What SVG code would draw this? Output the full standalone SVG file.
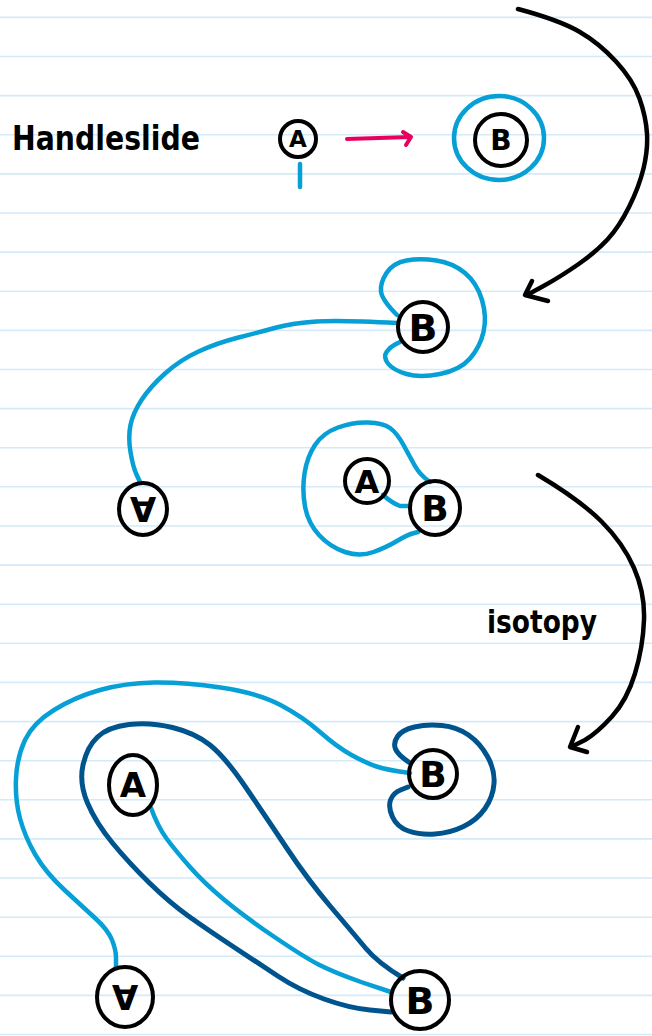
<svg xmlns="http://www.w3.org/2000/svg" width="652" height="1036" viewBox="0 0 652 1036">
<style>
.rule{stroke:#d3eaf8;stroke-width:1.6}
.node{fill:none;stroke:#000;stroke-width:4}
.lbl{font-family:"DejaVu Sans",sans-serif;font-weight:bold;fill:#000;text-anchor:middle}
.lb{fill:none;stroke:#069fd6;stroke-width:4.5;stroke-linecap:round;stroke-linejoin:round}
.db{fill:none;stroke:#00548e;stroke-width:5;stroke-linecap:round;stroke-linejoin:round}
.blk{fill:none;stroke:#000;stroke-width:4.5;stroke-linecap:round;stroke-linejoin:round}
.pink{fill:none;stroke:#e8005c;stroke-width:4;stroke-linecap:round;stroke-linejoin:round}
.hand{font-family:"DejaVu Sans",sans-serif;font-weight:bold;fill:#000}
</style>
<rect width="652" height="1036" fill="#fff"/>
<g id="paper">
<line class="rule" x1="0" x2="652" y1="17.4" y2="17.4"/>
<line class="rule" x1="0" x2="652" y1="56.5" y2="56.5"/>
<line class="rule" x1="0" x2="652" y1="95.6" y2="95.6"/>
<line class="rule" x1="0" x2="652" y1="134.8" y2="134.8"/>
<line class="rule" x1="0" x2="652" y1="173.9" y2="173.9"/>
<line class="rule" x1="0" x2="652" y1="213" y2="213"/>
<line class="rule" x1="0" x2="652" y1="252.1" y2="252.1"/>
<line class="rule" x1="0" x2="652" y1="291.2" y2="291.2"/>
<line class="rule" x1="0" x2="652" y1="330.4" y2="330.4"/>
<line class="rule" x1="0" x2="652" y1="369.5" y2="369.5"/>
<line class="rule" x1="0" x2="652" y1="408.6" y2="408.6"/>
<line class="rule" x1="0" x2="652" y1="447.7" y2="447.7"/>
<line class="rule" x1="0" x2="652" y1="486.8" y2="486.8"/>
<line class="rule" x1="0" x2="652" y1="526" y2="526"/>
<line class="rule" x1="0" x2="652" y1="565.1" y2="565.1"/>
<line class="rule" x1="0" x2="652" y1="604.2" y2="604.2"/>
<line class="rule" x1="0" x2="652" y1="643.3" y2="643.3"/>
<line class="rule" x1="0" x2="652" y1="682.4" y2="682.4"/>
<line class="rule" x1="0" x2="652" y1="721.6" y2="721.6"/>
<line class="rule" x1="0" x2="652" y1="760.7" y2="760.7"/>
<line class="rule" x1="0" x2="652" y1="799.8" y2="799.8"/>
<line class="rule" x1="0" x2="652" y1="838.9" y2="838.9"/>
<line class="rule" x1="0" x2="652" y1="878" y2="878"/>
<line class="rule" x1="0" x2="652" y1="917.2" y2="917.2"/>
<line class="rule" x1="0" x2="652" y1="956.3" y2="956.3"/>
<line class="rule" x1="0" x2="652" y1="995.4" y2="995.4"/>
<line class="rule" x1="0" x2="652" y1="1034.5" y2="1034.5"/>
</g>
<text class="hand" x="12" y="150" font-size="34" textLength="188" lengthAdjust="spacingAndGlyphs">Handleslide</text>
<text class="hand" x="487" y="633" font-size="32" textLength="110" lengthAdjust="spacingAndGlyphs">isotopy</text>
<g id="connectors">
<path class="lb" d="M300,164 L300,187"/>
<path class="pink" d="M347,139 L410,137 M403,132 L411,137 L406,145"/>
<ellipse class="lb" cx="499" cy="138" rx="45" ry="42"/>
<path class="blk" d="M518,9 Q559,20 579,31.5 Q599,43 616,61.5 Q633,80 639.5,98.5 Q646,117 647,133.5 Q648,150 643.5,168.5 Q639,187 629,207 Q619,227 607.5,239.5 Q596,252 578,264.5 Q560,277 543.5,286 L527,295"/>
<path class="blk" d="M532,281 L525,295 L548,301"/>
<path class="lb" d="M397,315 Q382,300 381,291.5 Q380,283 386.5,273 Q393,263 406.5,260.5 Q420,258 436.5,260.5 Q453,263 465,273 Q477,283 482,300 Q487,317 483.5,332 Q480,347 470,358.5 Q460,370 440,374 Q420,378 406.5,374 Q393,370 388,363.5 Q383,357 386.5,352 Q390,347 395,344.5 L400,342"/>
<path class="lb" d="M397,323 Q340,320 316.5,321.5 Q293,323 276.5,327.5 Q260,332 238.5,337.5 Q217,343 198.5,351.5 Q180,360 165,373.5 Q150,387 141.5,400 Q133,413 130.5,425 Q128,437 130.5,452 Q133,467 136.5,474.5 L140,482"/>
<path class="lb" d="M430,482 Q420,475 415,466 Q410,457 403.5,445 Q397,433 390,428 Q383,423 368,422.5 Q353,422 338,427.5 Q323,433 315,445 Q307,457 304.5,473.5 Q302,490 305,506.5 Q308,523 319,535 Q330,547 345,552 Q360,557 373.5,552 Q387,547 397,541 Q407,535 412.5,533.5 L418,532"/>
<path class="lb" d="M383,495 Q392,503 400,506 L409,506"/>
<path class="blk" d="M538,475 Q580,500 601.5,521.5 Q623,543 634,568 Q645,593 644,620 Q643,647 635,673.5 Q627,700 612,716.5 Q597,733 585,740 L571,747"/>
<path class="blk" d="M578,727 L570,747 L587,752"/>
<path class="db" d="M410,763 Q398,755 395.5,749 Q393,743 397.5,736.5 Q402,730 414.5,727 Q427,724 442,725.5 Q457,727 468.5,735 Q480,743 487.5,756.5 Q495,770 494,783.5 Q493,797 485,808.5 Q477,820 463.5,826.5 Q450,833 435,834 Q420,835 408.5,831 Q397,827 392.5,817 Q388,807 390.5,800 Q393,793 400.5,790 L408,787"/>
<path class="lb" d="M410,773 Q387,770 376.5,766.5 Q366,763 351.5,755 Q337,747 320,732 Q303,717 280.5,705 Q258,693 220.5,687.5 Q183,682 154,682.5 Q125,683 100,690 Q75,697 54,710 Q33,723 25,740 Q17,757 16,778.5 Q15,800 20,818.5 Q25,837 35.5,855 Q46,873 64.5,890 Q83,907 95.5,918.5 Q108,930 112,940 Q116,950 116,957.5 L116,968"/>
<path class="db" d="M403,978 Q378,963 365.5,948 Q353,933 330.5,906.5 Q308,880 287,848.5 Q266,817 245.5,787 Q225,757 210,745 Q195,733 172.5,727.5 Q150,722 129,724.5 Q108,727 97.5,737 Q87,747 83,765 Q79,783 87.5,803 Q96,823 112.5,843 Q129,863 149.5,883 Q170,903 189,916.5 Q208,930 233,946.5 Q258,963 278.5,976.5 Q299,990 324,999 Q349,1008 370,1010 L391,1012"/>
<path class="lb" d="M151,808 Q158,827 166.5,838.5 Q175,850 189.5,866.5 Q204,883 224.5,900 Q245,917 274.5,937 Q304,957 318.5,964.5 Q333,972 361,982 L391,992"/>
</g>
<g id="nodeA1"><circle class="node" cx="298" cy="139" r="18"/><text class="lbl" x="298" y="147" font-size="23">A</text></g>
<g id="nodeB1"><circle class="node" cx="501" cy="140" r="26"/><text class="lbl" x="501" y="150" font-size="28">B</text></g>
<g id="nodeB2"><circle class="node" cx="423" cy="327" r="25"/><text class="lbl" x="423" y="341" font-size="38">B</text></g>
<g id="nodeA2"><ellipse class="node" cx="143" cy="509" rx="24" ry="26"/><text class="lbl" x="143" y="509" font-size="34" transform="rotate(180 143 509)" dy="12">A</text></g>
<g id="nodeA3"><circle class="node" cx="367" cy="481" r="22"/><text class="lbl" x="367" y="493" font-size="32">A</text></g>
<g id="nodeB3"><ellipse class="node" cx="435" cy="508" rx="25" ry="27"/><text class="lbl" x="435" y="521" font-size="36">B</text></g>
<g id="nodeB4"><circle class="node" cx="433" cy="774" r="24"/><text class="lbl" x="433" y="787" font-size="36">B</text></g>
<g id="nodeA4"><ellipse class="node" cx="133" cy="785" rx="24" ry="30"/><text class="lbl" x="133" y="797" font-size="34">A</text></g>
<g id="nodeA5"><ellipse class="node" cx="125" cy="997" rx="28" ry="30"/><text class="lbl" x="125" y="997" font-size="34" transform="rotate(180 125 997)" dy="12">A</text></g>
<g id="nodeB5"><ellipse class="node" cx="420" cy="1000" rx="29" ry="29"/><text class="lbl" x="420" y="1014" font-size="38">B</text></g>
</svg>
